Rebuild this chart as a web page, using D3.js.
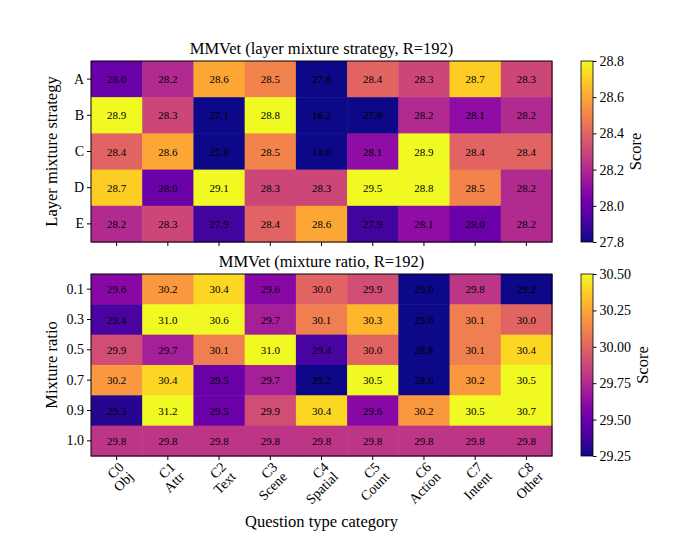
<!DOCTYPE html>
<html><head><meta charset="utf-8">
<script src="https://cdn.jsdelivr.net/npm/d3@7"></script>
<style>body{margin:0;background:#fff;} text{font-family:"Liberation Serif","DejaVu Serif",serif;fill:#000;}</style>
</head><body><svg id="c" width="690" height="548"></svg>
<script>
const categories = ["C0\nObj","C1\nAttr","C2\nText","C3\nScene","C4\nSpatial","C5\nCount","C6\nAction","C7\nIntent","C8\nOther"];
const strategies = ["A","B","C","D","E"];
const strategyValues = [
  [28.0,28.2,28.6,28.5,27.8,28.4,28.3,28.7,28.3],
  [28.9,28.3,27.1,28.8,16.2,27.8,28.2,28.1,28.2],
  [28.4,28.6,25.8,28.5,14.0,28.1,28.9,28.4,28.4],
  [28.7,28.0,29.1,28.3,28.3,29.5,28.8,28.5,28.2],
  [28.2,28.3,27.9,28.4,28.6,27.9,28.1,28.0,28.2]
];
const ratios = ["0.1","0.3","0.5","0.7","0.9","1.0"];
const ratioValues = [
  [29.6,30.2,30.4,29.6,30.0,29.9,29.0,29.8,29.2],
  [29.4,31.0,30.6,29.7,30.1,30.3,29.0,30.1,30.0],
  [29.9,29.7,30.1,31.0,29.4,30.0,28.8,30.1,30.4],
  [30.2,30.4,29.5,29.7,29.2,30.5,28.6,30.2,30.5],
  [29.3,31.2,29.5,29.9,30.4,29.6,30.2,30.5,30.7],
  [29.8,29.8,29.8,29.8,29.8,29.8,29.8,29.8,29.8]
];
const topTicks = [27.8,28.0,28.2,28.4,28.6,28.8];
const botTicks = [29.25,29.50,29.75,30.00,30.25,30.50];

const svg = d3.select("#c");
const L = 91, R = 552;
const x = d3.scaleBand().domain(d3.range(categories.length)).range([L, R]);

function panel(o){
  const y = d3.scaleBand().domain(o.rows).range([o.top, o.bottom]);
  const col = d3.scaleSequential(d3.interpolatePlasma).domain(o.domain).clamp(true);
  const g = svg.append("g");
  o.values.forEach((row,i)=>{
    row.forEach((v,j)=>{
      g.append("rect").attr("x",x(j)).attr("y",y(o.rows[i]))
        .attr("width",x.bandwidth()+0.5).attr("height",y.bandwidth()+0.5)
        .attr("fill",col(v));
      g.append("text").attr("x",x(j)+x.bandwidth()/2).attr("y",y(o.rows[i])+y.bandwidth()/2)
        .attr("text-anchor","middle").attr("dominant-baseline","central")
        .attr("font-size","11px").text(v.toFixed(1));
    });
  });
  g.append("rect").attr("x",L).attr("y",o.top).attr("width",R-L).attr("height",o.bottom-o.top)
    .attr("fill","none").attr("stroke","#000").attr("stroke-width",1);
  const ya = svg.append("g").attr("transform",`translate(${L},0)`)
    .call(d3.axisLeft(y).tickSize(4).tickPadding(3));
  ya.select(".domain").remove();
  ya.selectAll("text").attr("font-size","14px").attr("font-family","Liberation Serif");
  const xa = svg.append("g").attr("transform",`translate(0,${o.bottom})`)
    .call(d3.axisBottom(x).tickSize(4).tickFormat(""));
  xa.select(".domain").remove();
  svg.append("text").attr("x",(L+R)/2).attr("y",o.top-7).attr("text-anchor","middle")
    .attr("font-size","16.5px").text(o.title);
  svg.append("text").attr("transform",`translate(57,${(o.top+o.bottom)/2}) rotate(-90)`)
    .attr("text-anchor","middle").attr("font-size","16.5px").text(o.ylabel);
  const cx = 581, cw = 12;
  const cs = d3.scaleLinear().domain(o.domain).range([o.bottom, o.top]);
  const gid = "grad"+o.id;
  const grad = svg.append("defs").append("linearGradient").attr("id",gid)
    .attr("x1",0).attr("y1",1).attr("x2",0).attr("y2",0);
  d3.range(0,1.0001,0.05).forEach(t=>grad.append("stop").attr("offset",t).attr("stop-color",d3.interpolatePlasma(t)));
  svg.append("rect").attr("x",cx).attr("y",o.top).attr("width",cw).attr("height",o.bottom-o.top)
    .attr("fill",`url(#${gid})`).attr("stroke","#000").attr("stroke-width",0.8);
  const ca = svg.append("g").attr("transform",`translate(${cx+cw},0)`)
    .call(d3.axisRight(cs).tickValues(o.ticks).tickSize(3.5).tickPadding(3).tickFormat(d3.format(o.fmt)));
  ca.select(".domain").remove();
  ca.selectAll("text").attr("font-size","14px").attr("font-family","Liberation Serif");
  svg.append("text").attr("transform",`translate(${o.scoreX},${(o.top+o.bottom)/2}) rotate(-90)`)
    .attr("text-anchor","middle").attr("font-size","16.5px").text("Score");
}

panel({id:1,rows:strategies,values:strategyValues,top:61,bottom:242,domain:[27.8,28.8],ticks:topTicks,fmt:".1f",scoreX:641,
  title:"MMVet (layer mixture strategy, R=192)",ylabel:"Layer mixture strategy"});
panel({id:2,rows:ratios,values:ratioValues,top:274,bottom:456,domain:[29.25,30.5],ticks:botTicks,fmt:".2f",scoreX:648,
  title:"MMVet (mixture ratio, R=192)",ylabel:"Mixture ratio"});

categories.forEach((c,j)=>{
  const parts = c.split("\n");
  const cxp = x(j)+x.bandwidth()/2;
  const t = svg.append("text").attr("transform",`translate(${cxp+8},${468}) rotate(-45)`)
    .attr("text-anchor","end").attr("font-size","14px");
  t.append("tspan").attr("x",0).attr("y",0).text(parts[0]);
  t.append("tspan").attr("x",0).attr("y",13.5).text(parts[1]);
});
svg.append("text").attr("x",(L+R)/2).attr("y",527).attr("text-anchor","middle")
  .attr("font-size","16.5px").text("Question type category");
</script></body></html>
